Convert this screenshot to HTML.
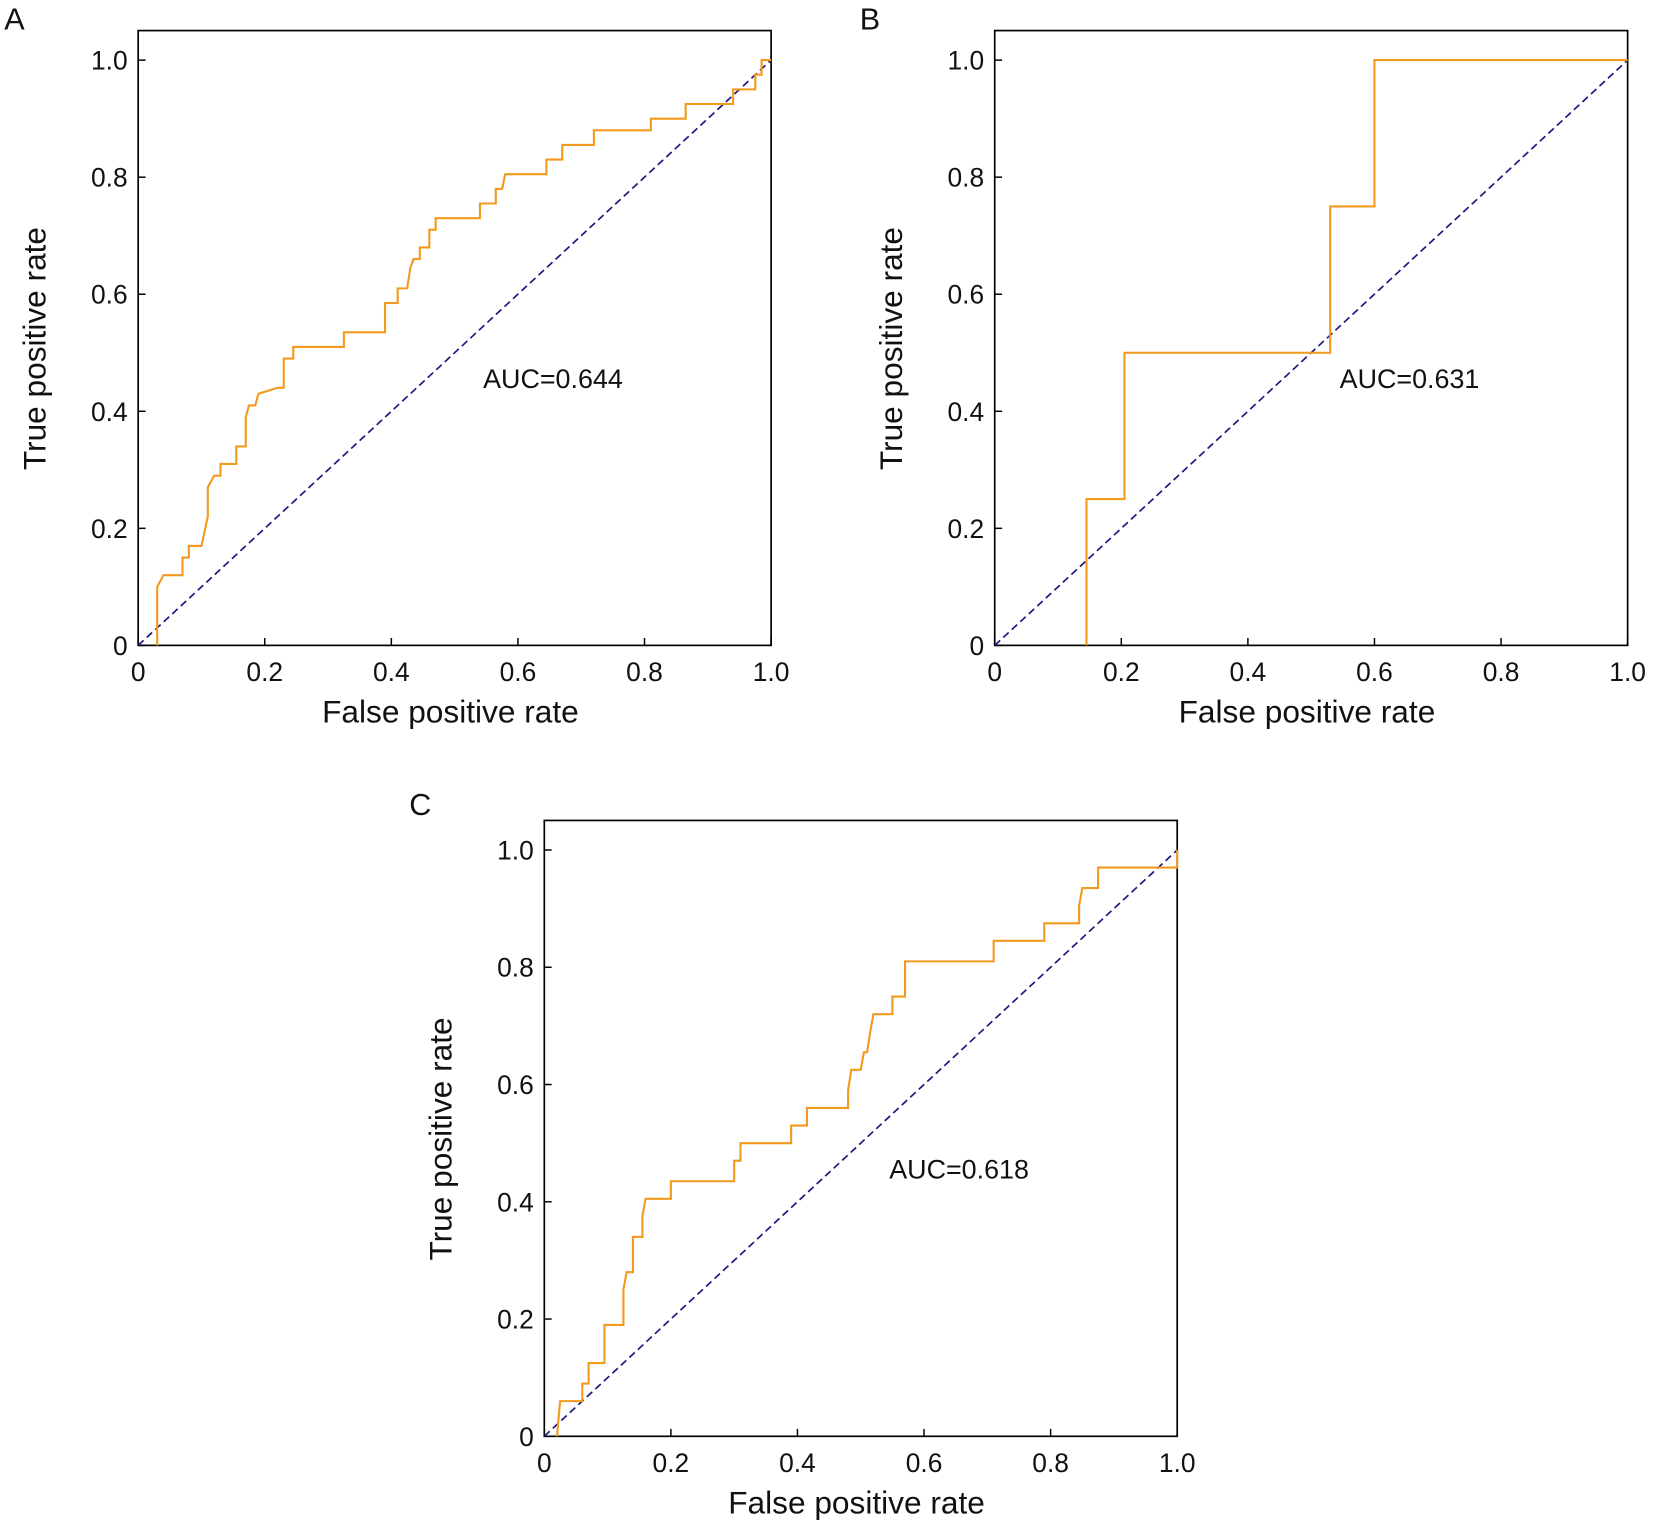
<!DOCTYPE html>
<html><head><meta charset="utf-8"><style>
html,body{margin:0;padding:0;background:#fff;}
svg{display:block;}
text{font-family:"Liberation Sans",sans-serif;fill:#111;}
</style></head><body>
<svg id="s" width="1654" height="1527" viewBox="0 0 1568 1448" preserveAspectRatio="none" xmlns="http://www.w3.org/2000/svg">
<rect width="1568" height="1448" fill="#fff"/>
<text x="4" y="28" font-size="29">A</text>
<text x="815" y="28" font-size="29">B</text>
<text x="388" y="773" font-size="29">C</text>
</svg>
<script>
const NS="http://www.w3.org/2000/svg",svg=document.getElementById('s');
function el(t,a,txt){const e=document.createElementNS(NS,t);for(const k in a)e.setAttribute(k,a[k]);if(txt!==undefined)e.textContent=txt;svg.appendChild(e);return e;}
function panel(x0,y0,y1,top,pts,auc,ax,ay){
  const W=600,H=y0-y1,X=v=>x0+v*W,Y=v=>y0-v*H;
  el('rect',{x:x0,y:top,width:W,height:y0-top,fill:'none',stroke:'#000','stroke-width':1.6});
  const labs=['0','0.2','0.4','0.6','0.8','1.0'];
  for(let i=0;i<=5;i++){const v=i*0.2;
    el('line',{x1:X(v),x2:X(v),y1:y0,y2:y0-7,stroke:'#000','stroke-width':1.4});
    el('line',{x1:x0,x2:x0+7,y1:Y(v),y2:Y(v),stroke:'#000','stroke-width':1.4});
    el('text',{x:X(v),y:y0+34,'font-size':25,'text-anchor':'middle'},labs[i]);
    el('text',{x:x0-10,y:Y(v)+9,'font-size':25,'text-anchor':'end'},labs[i]);
  }
  el('text',{x:x0+W/2-4,y:y0+73,'font-size':30,'text-anchor':'middle'},'False positive rate');
  el('text',{x:0,y:0,'font-size':30,'text-anchor':'middle',transform:`translate(${x0-88},${(y0+top)/2+10}) rotate(-90)`},'True positive rate');
  el('line',{x1:X(0),y1:Y(0),x2:X(1),y2:Y(1),stroke:'#1a1a80','stroke-width':1.6,'stroke-dasharray':'7,4'});
  el('polyline',{points:pts.map(p=>X(p[0])+','+Y(p[1])).join(' '),fill:'none',stroke:'#f39a1e','stroke-width':2});
  el('text',{x:X(ax),y:Y(ay),'font-size':25.5},auc);
}
const A=[[0.03,0],[0.03,0.1],[0.04,0.12],[0.07,0.12],[0.07,0.15],[0.08,0.15],[0.08,0.17],[0.1,0.17],[0.11,0.22],[0.11,0.27],[0.12,0.29],[0.13,0.29],[0.13,0.31],[0.155,0.31],[0.155,0.34],[0.17,0.34],[0.17,0.39],[0.175,0.41],[0.185,0.41],[0.19,0.43],[0.22,0.44],[0.23,0.44],[0.23,0.49],[0.245,0.49],[0.245,0.51],[0.325,0.51],[0.325,0.535],[0.39,0.535],[0.39,0.585],[0.41,0.585],[0.41,0.61],[0.425,0.61],[0.43,0.645],[0.435,0.66],[0.445,0.66],[0.445,0.68],[0.46,0.68],[0.46,0.71],[0.47,0.71],[0.47,0.73],[0.54,0.73],[0.54,0.755],[0.565,0.755],[0.565,0.78],[0.575,0.78],[0.58,0.805],[0.645,0.805],[0.645,0.83],[0.67,0.83],[0.67,0.855],[0.72,0.855],[0.72,0.88],[0.81,0.88],[0.81,0.9],[0.865,0.9],[0.865,0.925],[0.94,0.925],[0.94,0.95],[0.975,0.95],[0.975,0.975],[0.985,0.975],[0.985,1],[1,1]];
const B=[[0.145,0],[0.145,0.25],[0.205,0.25],[0.205,0.5],[0.53,0.5],[0.53,0.75],[0.6,0.75],[0.6,1],[1,1]];
const C=[[0.02,0],[0.025,0.06],[0.06,0.06],[0.06,0.09],[0.07,0.09],[0.07,0.125],[0.095,0.125],[0.095,0.19],[0.125,0.19],[0.125,0.25],[0.13,0.28],[0.14,0.28],[0.14,0.34],[0.155,0.34],[0.155,0.375],[0.16,0.405],[0.2,0.405],[0.2,0.435],[0.3,0.435],[0.3,0.47],[0.31,0.47],[0.31,0.5],[0.39,0.5],[0.39,0.53],[0.415,0.53],[0.415,0.56],[0.48,0.56],[0.48,0.59],[0.485,0.625],[0.5,0.625],[0.505,0.655],[0.51,0.655],[0.515,0.69],[0.52,0.72],[0.55,0.72],[0.55,0.75],[0.57,0.75],[0.57,0.81],[0.71,0.81],[0.71,0.845],[0.79,0.845],[0.79,0.875],[0.845,0.875],[0.845,0.905],[0.85,0.935],[0.875,0.935],[0.875,0.97],[1,0.97],[1,1]];
panel(131,612,57,29,A,'AUC=0.644',0.545,0.44);
panel(943,612,57,29,B,'AUC=0.631',0.545,0.44);
panel(516,1362,806,778,C,'AUC=0.618',0.545,0.44);
</script>
</body></html>
